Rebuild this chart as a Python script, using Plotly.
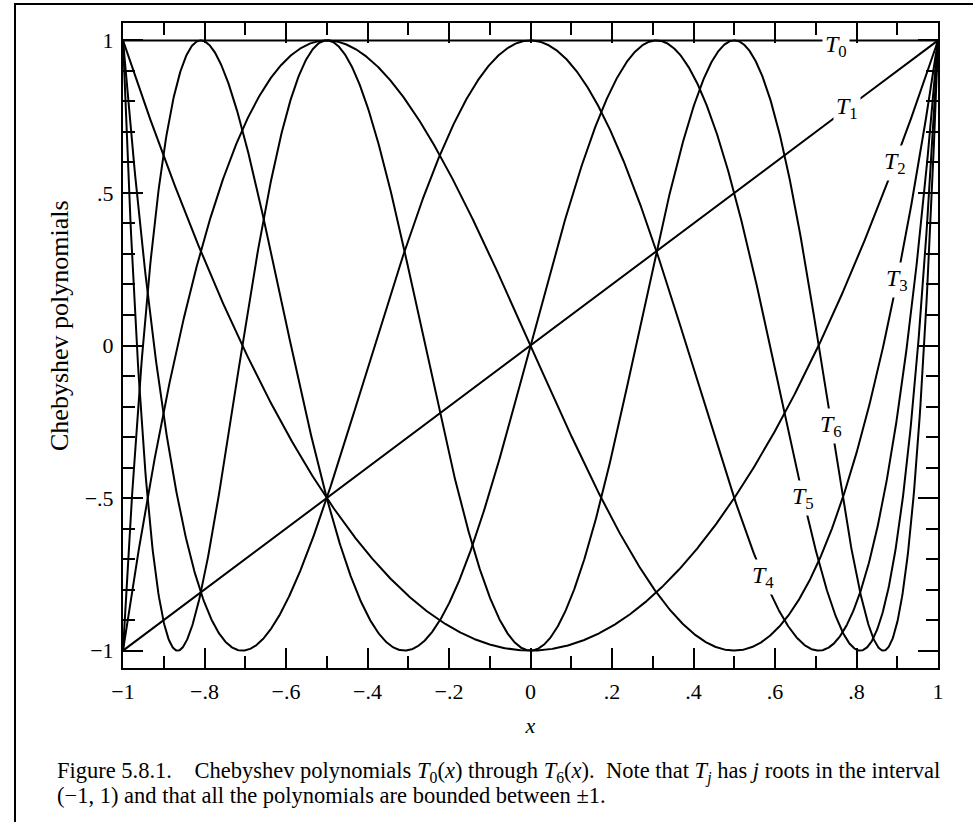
import numpy as np
import plotly.graph_objects as go

# Chebyshev polynomial coefficients (ascending powers of x), T0 ... T6
T0_coef = [1]
T1_coef = [0, 1]
T2_coef = [-1, 0, 2]
T3_coef = [0, -3, 0, 4]
T4_coef = [1, 0, -8, 0, 8]
T5_coef = [0, 5, 0, -20, 0, 16]
T6_coef = [-1, 0, 18, 0, -48, 0, 32]
series_names = ["T0", "T1", "T2", "T3", "T4", "T5", "T6"]
series_coefs = [T0_coef, T1_coef, T2_coef, T3_coef, T4_coef, T5_coef, T6_coef]

x_tickvals = [-1, -0.8, -0.6, -0.4, -0.2, 0, 0.2, 0.4, 0.6, 0.8, 1]
x_ticktext = ["\u22121", "\u2212.8", "\u2212.6", "\u2212.4", "\u2212.2", "0", ".2", ".4", ".6", ".8", "1"]
y_tickvals = [-1, -0.5, 0, 0.5, 1]
y_ticktext = ["\u22121", "\u2212.5", "0", ".5", "1"]

# where each curve label sits along x
label_x = [0.75, 0.777, 0.894, 0.90, 0.571, 0.669, 0.738]

SERIF = "Liberation Serif, Times New Roman, serif"

# plot-area geometry in pixels
W, H = 973, 822
ML, MR, MT, MB = 123, 35, 23, 154
PW, PH = W - ML - MR, H - MT - MB


def px_x(p):
    return (p - ML) / PW


def px_y(p):
    return (H - MB - p) / PH


xs = np.linspace(-1, 1, 1201)
fig = go.Figure()
for name, c in zip(series_names, series_coefs):
    ys = np.polynomial.polynomial.polyval(xs, c)
    fig.add_trace(go.Scatter(x=xs, y=ys, mode="lines", name=name,
                             line=dict(color="black", width=2),
                             showlegend=False, hoverinfo="skip"))

for i, (name, c, lx) in enumerate(zip(series_names, series_coefs, label_x)):
    ly = float(np.polynomial.polynomial.polyval(lx, c))
    fig.add_annotation(x=lx, y=ly, xref="x", yref="y",
                       text="<i>T</i><sub>%s</sub>" % name[1:],
                       showarrow=False, bgcolor="white", borderpad=2,
                       yshift=-6 if i == 0 else 0,
                       font=dict(family=SERIF, size=24, color="black"))

caption_lines = [
    ("Figure 5.8.1.\u00a0\u00a0\u00a0 Chebyshev polynomials <i>T</i><sub>0</sub>(<i>x</i>) through "
     "<i>T</i><sub>6</sub>(<i>x</i>).\u00a0 Note that <i>T<sub>j</sub></i> has <i>j</i> roots in the interval"),
    "(\u22121, 1) and that all the polynomials are bounded between \u00b11.",
]
for txt, yc in zip(caption_lines, [772, 795]):
    fig.add_annotation(x=px_x(55), y=px_y(yc), xref="paper", yref="paper", text=txt,
                       showarrow=False, align="left", xanchor="left", yanchor="middle",
                       font=dict(family=SERIF, size=22.5, color="black"))

# y-axis title (placed as in the reference, slightly above plot centre)
fig.add_annotation(x=px_x(59), y=px_y(326), xref="paper", yref="paper",
                   text="Chebyshev polynomials", textangle=-90, showarrow=False,
                   xanchor="center", yanchor="middle",
                   font=dict(family=SERIF, size=26, color="black"))

common = dict(showline=True, linecolor="black", linewidth=2, mirror="ticks",
              ticks="inside", ticklen=20, tickwidth=1.8, tickcolor="black",
              showgrid=False, zeroline=False, automargin=False,
              ticklabelstandoff=3,
              tickfont=dict(family=SERIF, size=22, color="black"))

fig.update_xaxes(range=[-1, 1], tickvals=x_tickvals, ticktext=x_ticktext,
                 minor=dict(dtick=0.1, tick0=0, ticks="inside", ticklen=12,
                            tickwidth=1.8, tickcolor="black", showgrid=False),
                 title=dict(text="<i>x</i>", standoff=14,
                            font=dict(family=SERIF, size=22, color="black")),
                 **common)
fig.update_yaxes(range=[-1.057, 1.057], tickvals=y_tickvals, ticktext=y_ticktext,
                 minor=dict(dtick=0.1, tick0=0, ticks="inside", ticklen=12,
                            tickwidth=1.8, tickcolor="black", showgrid=False),
                 **common)

fig.update_layout(
    width=W, height=H,
    margin=dict(l=ML, r=MR, t=MT, b=MB),
    paper_bgcolor="white", plot_bgcolor="white",
    font=dict(family=SERIF, color="black"),
    shapes=[
        # outer figure frame (top and left edges)
        dict(type="line", xref="paper", yref="paper",
             x0=px_x(14), x1=px_x(973), y0=px_y(4), y1=px_y(4),
             line=dict(color="black", width=2)),
        dict(type="line", xref="paper", yref="paper",
             x0=px_x(15), x1=px_x(15), y0=px_y(3), y1=px_y(822),
             line=dict(color="black", width=2)),
    ],
)

fig.write_html("out.html", config={"displayModeBar": False},
               post_script="document.body.style.margin='0';")
